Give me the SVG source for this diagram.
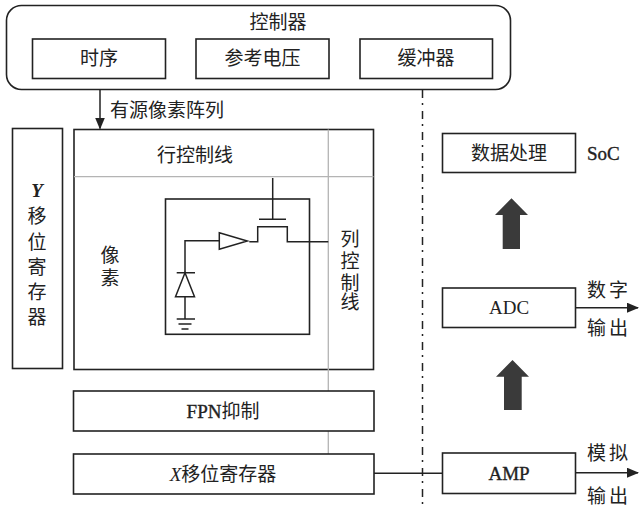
<svg xmlns="http://www.w3.org/2000/svg" width="639" height="507" viewBox="0 0 639 507">
<style>
  .box{fill:#fff;stroke:#222;stroke-width:1.6}
  .ln{fill:none;stroke:#222;stroke-width:1.5}
  .gray{fill:none;stroke:#b4b4b4;stroke-width:1.3}
  .t{font-family:"Liberation Serif","Noto Sans CJK SC",serif;font-size:19px;fill:#222;text-anchor:middle}
  .s{text-anchor:start}
  .hv{stroke:#222;stroke-width:0.35}
  .dd{fill:none;stroke:#222;stroke-width:1.5;stroke-dasharray:8 5 2 6}
  .big{fill:#3a3a3a}
</style>
<defs>
  <marker id="ah" markerWidth="12" markerHeight="10" refX="11" refY="5" orient="auto" markerUnits="userSpaceOnUse">
    <path d="M0,0 L12,5 L0,10 Z" fill="#222"/>
  </marker>
</defs>
<rect width="639" height="507" fill="#fff"/>

<g id="controller">
  <rect class="box" x="6.5" y="5.5" width="504" height="84" rx="15" ry="15"/>
  <text class="t" x="278" y="29">控制器</text>
  <g id="timing">
    <rect class="box" x="32.5" y="39" width="133" height="39.5"/>
    <text class="t" x="99" y="65">时序</text>
  </g>
  <g id="vref">
    <rect class="box" x="196" y="39" width="133" height="39.5"/>
    <text class="t" x="262.5" y="65">参考电压</text>
  </g>
  <g id="buffer">
    <rect class="box" x="360" y="39" width="132.5" height="39.5"/>
    <text class="t" x="426" y="65">缓冲器</text>
  </g>
</g>

<g id="y-shift">
  <rect class="box" x="12.5" y="128.5" width="50" height="240"/>
  <text class="t" x="37" y="197" font-style="italic" font-weight="bold">Y</text>
  <text class="t" x="37" y="223">移</text>
  <text class="t" x="37" y="249">位</text>
  <text class="t" x="37" y="274">寄</text>
  <text class="t" x="37" y="299">存</text>
  <text class="t" x="37" y="324">器</text>
</g>

<g id="pixel-array">
  <rect class="box" x="74" y="129.5" width="299.5" height="240"/>
  <line class="gray" x1="74" y1="176.7" x2="373.5" y2="176.7"/>
  <line class="gray" x1="328.3" y1="129.5" x2="328.3" y2="454"/>
  <text class="t" x="195" y="162">行控制线</text>
  <text class="t" x="110" y="262">像</text>
  <text class="t" x="110" y="285">素</text>
  <text class="t" x="350" y="246">列</text>
  <text class="t" x="350" y="268">控</text>
  <text class="t" x="350" y="290">制</text>
  <text class="t" x="350" y="309">线</text>
</g>

<g id="pixel">
  <rect class="box" x="165.5" y="199" width="144" height="135.3" fill="none"/>
  <path class="ln" d="M272.7,178 V219.3 M259,219.3 H286"/>
  <path class="ln" d="M249.3,241.7 H257.7 V226.7 H287.3 V241.7 H328.3"/>
  <path class="ln" d="M219.3,232.7 L247.3,241 L219.3,249.3 Z"/>
  <path class="ln" d="M219.3,240.8 H185 V272.7 M176.7,272.7 H195"/>
  <path class="ln" d="M185,272.7 L194.5,296.7 L175.5,296.7 Z"/>
  <path class="ln" d="M185,296.7 V319 M176.7,319 H195 M178.5,324 H191.5 M181.5,329 H188.5"/>
</g>

<g id="fpn">
  <rect class="box" x="73.5" y="391" width="300.5" height="40"/>
  <text class="t" x="223" y="418"><tspan class="hv">FPN</tspan>抑制</text>
</g>

<g id="x-shift">
  <rect class="box" x="73.5" y="454" width="300.5" height="40"/>
  <text class="t" x="223" y="481"><tspan font-style="italic">X</tspan>移位寄存器</text>
</g>

<g id="data-proc">
  <rect class="box" x="442.5" y="133.5" width="133" height="39"/>
  <text class="t" x="509" y="160">数据处理</text>
  <text class="t s hv" x="587" y="160">SoC</text>
</g>

<g id="adc">
  <rect class="box" x="442.5" y="288" width="133" height="39.5"/>
  <text class="t" x="509" y="314">ADC</text>
  <text class="t" x="609" y="297" letter-spacing="3">数字</text>
  <text class="t" x="609" y="335" letter-spacing="3">输出</text>
</g>

<g id="amp">
  <rect class="box" x="442.5" y="453" width="133" height="40.5"/>
  <text class="t hv" x="509" y="480">AMP</text>
  <text class="t" x="609" y="460" letter-spacing="3">模拟</text>
  <text class="t" x="609" y="503" letter-spacing="3">输出</text>
</g>

<g id="connectors">
  <line class="ln" x1="100" y1="89.5" x2="100" y2="128.5" marker-end="url(#ah)"/>
  <text class="t s" x="110" y="117">有源像素阵列</text>
  <line class="dd" x1="422.5" y1="90" x2="422.5" y2="507"/>
  <line class="ln" x1="374" y1="473.3" x2="442.5" y2="473.3" stroke-width="1.2"/>
  <line class="ln" x1="575.5" y1="307.7" x2="638" y2="307.7" marker-end="url(#ah)"/>
  <line class="ln" x1="575.5" y1="472.7" x2="638" y2="472.7" marker-end="url(#ah)"/>
  <path class="big" d="M511.5,198.3 L528,215 L520,215 L520,249 L502.7,249 L502.7,215 L495,215 Z"/>
  <path class="big" d="M512.5,360 L529,376.7 L521.7,376.7 L521.7,410 L504,410 L504,376.7 L496,376.7 Z"/>
</g>
</svg>
